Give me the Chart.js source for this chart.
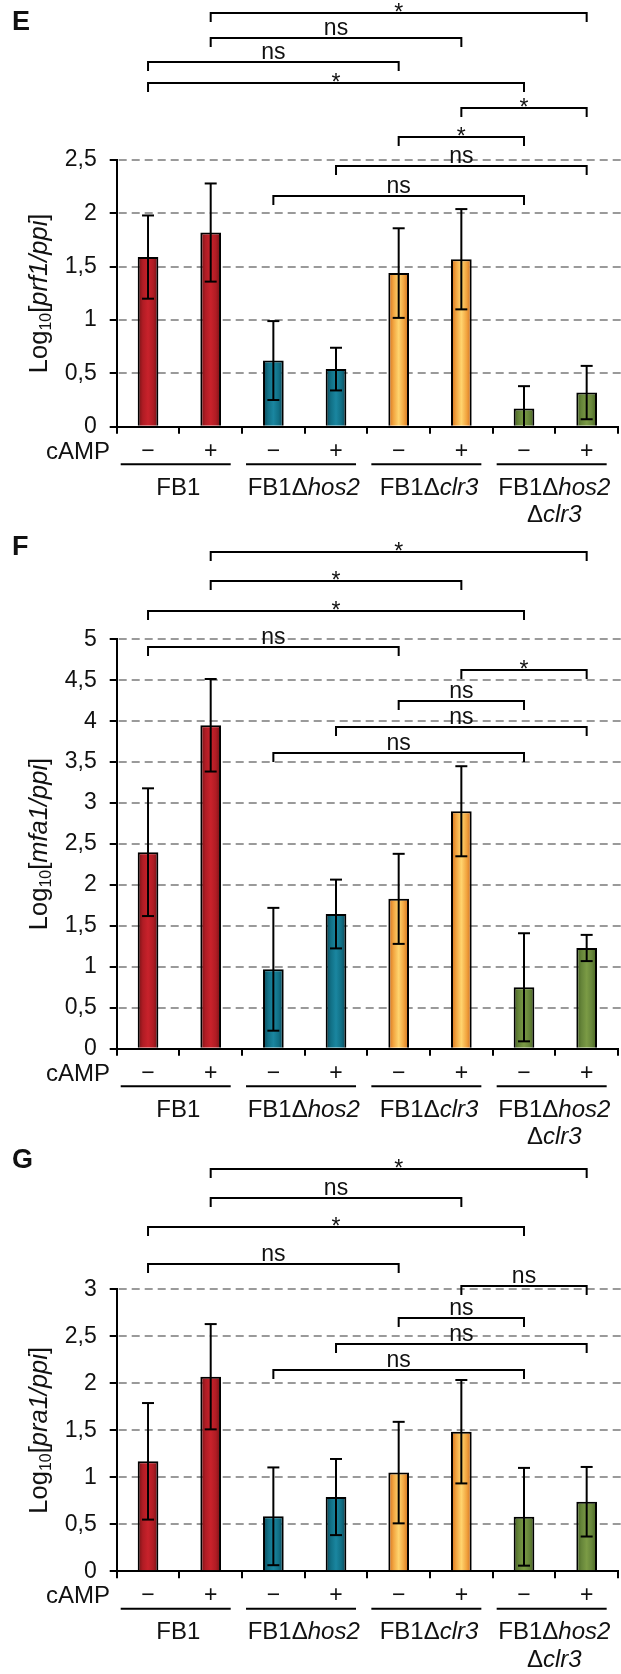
<!DOCTYPE html>
<html><head><meta charset="utf-8">
<script src="https://cdn.jsdelivr.net/npm/chart.js@4.4.0/dist/chart.umd.min.js"></script>
<style>
html,body{margin:0;padding:0;background:#fff;}
.panel{position:relative;width:621px;}
</style></head><body>
<div class="panel" style="height:532px"><canvas id="cE"></canvas></div>
<div class="panel" style="height:616px"><canvas id="cF"></canvas></div>
<div class="panel" style="height:526px"><canvas id="cG"></canvas></div>
<script>
// ---------- data ----------
const cAMPLabels = ['−','+','−','+','−','+','−','+'];
const strainLines = [
  [[['FB1',0]]],
  [[['FB1Δ',0],['hos2',1]]],
  [[['FB1Δ',0],['clr3',1]]],
  [[['FB1Δ',0],['hos2',1]],[['Δ',0],['clr3',1]]]
];
const barGroup = ['red','red','blue','blue','orange','orange','green','green'];

const prfMeans = [1.59, 1.82, 0.62, 0.54, 1.44, 1.57, 0.17, 0.32];
const prfErr   = [0.39, 0.46, 0.37, 0.20, 0.42, 0.47, 0.21, 0.25];
const prfBrackets = [[1,7,3.88,'*'],[1,5,3.64,'ns'],[0,4,3.42,'ns'],[0,6,3.22,'*'],[5,7,2.99,'*'],[4,6,2.72,'*'],[3,7,2.44,'ns'],[2,6,2.16,'ns']];

const mfaMeans = [2.40, 3.95, 0.97, 1.645, 1.83, 2.90, 0.75, 1.23];
const mfaErr   = [0.78, 0.565, 0.75, 0.42, 0.55, 0.55, 0.66, 0.16];
const mfaBrackets = [[1,7,6.07,'*'],[1,5,5.71,'*'],[0,6,5.35,'*'],[0,4,4.90,'ns'],[5,7,4.63,'*'],[4,6,4.25,'ns'],[3,7,3.93,'ns'],[2,6,3.61,'ns']];

const praMeans = [1.17, 2.07, 0.585, 0.79, 1.05, 1.485, 0.58, 0.74];
const praErr   = [0.62, 0.56, 0.52, 0.405, 0.54, 0.55, 0.52, 0.37];
const praBrackets = [[1,7,4.28,'*'],[1,5,3.97,'ns'],[0,6,3.66,'*'],[0,4,3.27,'ns'],[5,7,3.04,'ns'],[4,6,2.70,'ns'],[3,7,2.42,'ns'],[2,6,2.14,'ns']];

// ---------- style ----------
const FONT = "'Liberation Sans', Arial, sans-serif";
const gradStops = {
  red:    ['#6e1315','#b01c24','#c8222b','#b01c24','#6e1315'],
  blue:   ['#0a4555','#117086','#1a86a0','#117086','#0a4555'],
  orange: ['#cf6a1a','#f2a540','#ffd46f','#f2a540','#cf6a1a'],
  green:  ['#46631f','#66853a','#7b9b45','#66853a','#46631f']
};
const BAR_PCT = 0.33;

function richWidth(ctx, parts, size){
  let w = 0;
  parts.forEach(p => { ctx.font = (p[1] ? 'italic ' : '') + (p[2] || size) + 'px ' + FONT; w += ctx.measureText(p[0]).width; });
  return w;
}
function drawRich(ctx, parts, cx, y, size){
  const w = richWidth(ctx, parts, size);
  let x = cx - w/2;
  ctx.textAlign = 'left';
  parts.forEach(p => {
    ctx.font = (p[1] ? 'italic ' : '') + (p[2] || size) + 'px ' + FONT;
    ctx.fillText(p[0], x, y + (p[3] || 0));
    x += ctx.measureText(p[0]).width;
  });
}

function makeChart(id, cfg){
  const H = cfg.H;
  const decor = {
    id: 'decor' + id,
    beforeDatasetsDraw(chart){
      const ctx = chart.ctx, ys = chart.scales.y, a = chart.chartArea;
      ctx.save();
      ctx.strokeStyle = '#9a9a9a'; ctx.lineWidth = 2; ctx.setLineDash([8,5]);
      ys.ticks.forEach(t => {
        if (t.value <= 0) return;
        const y = Math.round(ys.getPixelForValue(t.value));
        ctx.beginPath(); ctx.moveTo(a.left + 2, y); ctx.lineTo(chart.width, y); ctx.stroke();
      });
      ctx.restore();
    },
    afterDatasetsDraw(chart){
      const ctx = chart.ctx, xs = chart.scales.x, ys = chart.scales.y;
      ctx.save();
      ctx.strokeStyle = '#000'; ctx.lineWidth = 2;
      cfg.means.forEach((m, i) => {
        const cx = xs.getPixelForValue(i);
        const top = ys.getPixelForValue(m + cfg.err[i]);
        const lowV = m - cfg.err[i];
        const bot = ys.getPixelForValue(Math.max(lowV, 0));
        ctx.beginPath(); ctx.moveTo(cx, top); ctx.lineTo(cx, bot); ctx.stroke();
        ctx.beginPath(); ctx.moveTo(cx - 6, top); ctx.lineTo(cx + 6, top); ctx.stroke();
        if (lowV > 0) { ctx.beginPath(); ctx.moveTo(cx - 6, bot); ctx.lineTo(cx + 6, bot); ctx.stroke(); }
      });
      ctx.restore();
    },
    afterDraw(chart){
      const ctx = chart.ctx, xs = chart.scales.x, ys = chart.scales.y, a = chart.chartArea;
      ctx.save();
      ctx.fillStyle = '#111'; ctx.strokeStyle = '#000';
      // panel letter
      ctx.font = 'bold 27px ' + FONT; ctx.textAlign = 'left'; ctx.textBaseline = 'alphabetic';
      ctx.fillText(cfg.letter, 12, cfg.letterY);
      // y title
      ctx.save();
      ctx.translate(47, (a.top + a.bottom) / 2);
      ctx.rotate(-Math.PI / 2);
      ctx.textBaseline = 'alphabetic';
      drawRich(ctx, [['Log',0],['10',0,16,4],['[',0],[cfg.gene + '/ppi',1],[']',0]], 0, 0, 25.5);
      ctx.restore();
      // cAMP
      ctx.font = '24px ' + FONT; ctx.textAlign = 'right'; ctx.textBaseline = 'middle';
      ctx.fillText('cAMP', 110, a.bottom + 25.5);
      // groups
      const catW = xs.width / cAMPLabels.length;
      ctx.lineWidth = 2;
      strainLines.forEach((lines, g) => {
        const left = xs.getPixelForValue(2*g) - catW/2;
        const cx = (xs.getPixelForValue(2*g) + xs.getPixelForValue(2*g+1)) / 2;
        ctx.beginPath(); ctx.moveTo(left + 4, a.bottom + 37.5); ctx.lineTo(left + 114, a.bottom + 37.5); ctx.stroke();
        ctx.textBaseline = 'middle';
        lines.forEach((parts, k) => drawRich(ctx, parts, cx - 1, a.bottom + 61.5 + k * 27.5, 24));
      });
      // brackets
      ctx.lineWidth = 2;
      cfg.brackets.forEach(b => {
        const x1 = xs.getPixelForValue(b[0]), x2 = xs.getPixelForValue(b[1]);
        const y = Math.round(ys.getPixelForValue(b[2]));
        ctx.beginPath(); ctx.moveTo(x1, y + 9); ctx.lineTo(x1, y); ctx.lineTo(x2, y); ctx.lineTo(x2, y + 9); ctx.stroke();
        ctx.font = '23px ' + FONT; ctx.textAlign = 'center'; ctx.textBaseline = 'alphabetic';
        if (b[3] === '*') ctx.fillText('*', (x1 + x2) / 2, y + 7);
        else ctx.fillText(b[3], (x1 + x2) / 2, y - 3);
      });
      ctx.restore();
    }
  };
  return new Chart(document.getElementById(id), {
    type: 'bar',
    data: {
      labels: cAMPLabels,
      datasets: [{
        data: cfg.means,
        barPercentage: BAR_PCT,
        categoryPercentage: 1,
        borderColor: '#000',
        borderWidth: 2,
        backgroundColor: c => {
          const ch = c.chart;
          const stops = gradStops[barGroup[c.dataIndex]];
          if (!ch.chartArea || !ch.scales.x) return stops[2];
          const xs = ch.scales.x;
          const cx = xs.getPixelForValue(c.dataIndex);
          const w = xs.width / cAMPLabels.length * BAR_PCT;
          const g = ch.ctx.createLinearGradient(cx - w/2, 0, cx + w/2, 0);
          stops.forEach((s, k) => g.addColorStop(k / (stops.length - 1), s));
          return g;
        }
      }]
    },
    options: {
      responsive: true, maintainAspectRatio: false, animation: false,
      layout: { padding: { top: cfg.top, right: 3, left: 0, bottom: 0 } },
      plugins: { legend: { display: false }, tooltip: { enabled: false } },
      scales: {
        x: {
          afterFit: s => { s.height = H - cfg.bottom; },
          grid: { offset: true, drawOnChartArea: false, drawTicks: true, tickLength: 7, color: '#000', lineWidth: 2 },
          border: { display: true, color: '#000', width: 2 },
          ticks: { color: '#111', font: { family: FONT, size: 23 }, padding: 4, maxRotation: 0 }
        },
        y: {
          min: 0, max: cfg.yMax,
          afterFit: s => { s.width = 116.7; },
          grid: { drawOnChartArea: false, drawTicks: true, tickLength: 7, color: '#000', lineWidth: 2 },
          border: { display: true, color: '#000', width: 2 },
          ticks: { stepSize: 0.5, color: '#111', padding: 13, font: { family: FONT, size: 23 },
                   callback: v => String(v).replace('.', ',') }
        }
      }
    },
    plugins: [decor]
  });
}

makeChart('cE', { H: 532, top: 160, bottom: 426.7, yMax: 2.5, gene: 'prf1', letter: 'E', letterY: 30,
  means: prfMeans, err: prfErr, brackets: prfBrackets });
makeChart('cF', { H: 616, top: 107.3, bottom: 516.7, yMax: 5, gene: 'mfa1', letter: 'F', letterY: 23,
  means: mfaMeans, err: mfaErr, brackets: mfaBrackets });
makeChart('cG', { H: 526, top: 141.3, bottom: 423.3, yMax: 3, gene: 'pra1', letter: 'G', letterY: 20,
  means: praMeans, err: praErr, brackets: praBrackets });
</script>
</body></html>
